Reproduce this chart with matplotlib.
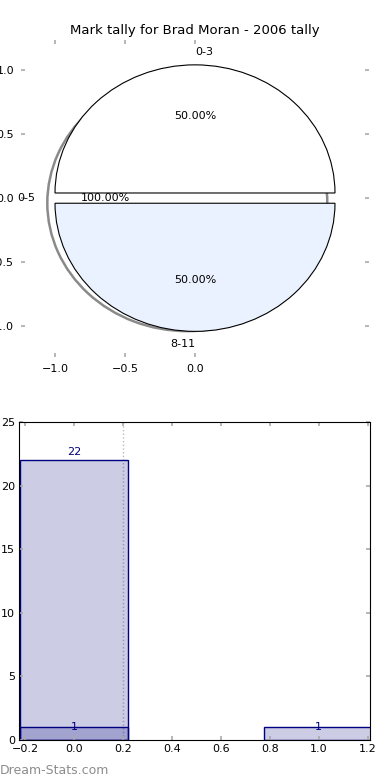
import matplotlib
matplotlib.use('Agg')
import matplotlib.pyplot as plt

# pie data
pie_labels = ['0-3', '0-5', '8-11']
pie_values = [1, 0, 1]
pie_pcts = ['50.00%', '100.00%', '50.00%']
pie_colors = ['white', 'white', '#ebf2ff']

# bar data
bar_x = [0, 1]
bar_total = [22, 1]
bar_sub = [1]
bar_sub_x = [0]

fig = plt.figure(figsize=(3.9, 7.8), dpi=100)

tick_col = '#aaaaaa'

# ---- pie ----
ax1 = fig.add_axes([21/390, 1-357/780, 348/390, 317/780])
# shadow: the whole, un-exploded pie shifted down-left
ax1.pie([sum(pie_values)], colors=['white'], center=(-0.055, -0.038),
        wedgeprops=dict(edgecolor='#8a8a8a', linewidth=1.8))
wedges, texts, autotexts = ax1.pie(pie_values, labels=pie_labels, colors=pie_colors,
                                   explode=[0.04]*3, autopct='%1.2f%%',
                                   wedgeprops=dict(edgecolor='black', linewidth=0.8),
                                   textprops=dict(fontsize=8))
for t, p in zip(autotexts, pie_pcts):
    t.set_text(p)
wedges[1].set_visible(False)
texts[0].set_ha('left')
texts[2].set_ha('right')
ax1.set_aspect('auto')
ax1.set_xlim(-1.243, 1.243)
ax1.set_ylim(-1.24, 1.234)
ax1.set_frame_on(True)
for s in ax1.spines.values():
    s.set_visible(False)
ax1.set_xticks([-1.0, -0.5, 0.0])
ax1.set_yticks([-1.0, -0.5, 0.0, 0.5, 1.0])
ax1.tick_params(direction='in', top=True, right=True, color=tick_col, length=3, width=1.2,
                labelsize=8, pad=5)
ax1.set_title('Mark tally for Brad Moran - 2006 tally', fontsize=9.5, pad=4)

# ---- bars ----
ax2 = fig.add_axes([19/390, 40/780, 351/390, 318/780])
bar_col = (0, 0, 0.5, 0.2)
ax2.bar(bar_x, bar_total, width=0.444, color=bar_col, edgecolor='navy', linewidth=1)
ax2.bar(bar_sub_x, bar_sub, width=0.444, color=bar_col, edgecolor='navy', linewidth=1)
ax2.axvline(0.2, color='#bbbbbb', linestyle=':', linewidth=1, zorder=0)
for x, h in zip(bar_x, bar_total):
    if h > 1:
        ax2.text(x, h + 0.25, str(h), ha='center', va='bottom', color='navy', fontsize=8)
    else:
        ax2.text(x, h, str(h), ha='center', va='center', color='navy', fontsize=8)
for x, h in zip(bar_sub_x, bar_sub):
    ax2.text(x, h, str(h), ha='center', va='center', color='navy', fontsize=8)
ax2.set_xlim(-0.2245, 1.21)
ax2.set_ylim(0, 25)
ax2.set_xticks([-0.2, 0.0, 0.2, 0.4, 0.6, 0.8, 1.0, 1.2])
ax2.set_yticks([0, 5, 10, 15, 20, 25])
ax2.tick_params(direction='in', top=True, right=True, color=tick_col, length=3, width=1.2,
                labelsize=8, pad=3)

fig.text(0.0, 1-770/780, 'Dream-Stats.com', color='#8c8c8c', fontsize=9,
         va='center', ha='left')

fig.savefig('out.png', dpi=100)
